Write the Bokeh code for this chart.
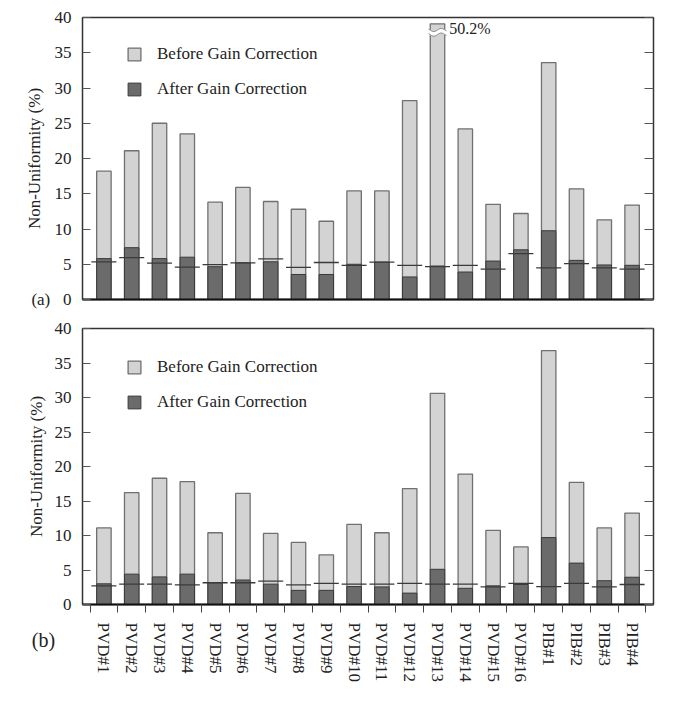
import numpy as np
from bokeh.plotting import figure
from bokeh.models import (Range1d, LinearAxis, FixedTicker, Legend, LegendItem,
                          Label, ColumnDataSource)
from bokeh.layouts import column
from bokeh.embed import file_html
from bokeh.resources import INLINE

categories = ["PVD#1", "PVD#2", "PVD#3", "PVD#4", "PVD#5", "PVD#6", "PVD#7",
              "PVD#8", "PVD#9", "PVD#10", "PVD#11", "PVD#12", "PVD#13",
              "PVD#14", "PVD#15", "PVD#16", "PIB#1", "PIB#2", "PIB#3", "PIB#4"]

# panel (a)
before_a = [18.2, 21.1, 25.0, 23.5, 13.8, 15.9, 13.9, 12.8, 11.1, 15.4,
            15.4, 28.2, 50.2, 24.2, 13.5, 12.2, 33.6, 15.7, 11.3, 13.4]
after_a = [5.8, 7.35, 5.8, 6.0, 4.65, 5.2, 5.35, 3.55, 3.55, 5.0,
           5.3, 3.2, 4.75, 3.9, 5.45, 7.05, 9.75, 5.55, 4.9, 4.85]
ref_a = [5.35, 5.95, 5.15, 4.6, 4.95, 5.2, 5.75, 4.55, 5.25, 4.85,
         5.3, 4.85, 4.65, 4.85, 4.3, 6.5, 4.5, 5.1, 4.5, 4.3]

# panel (b)
before_b = [11.1, 16.2, 18.3, 17.8, 10.4, 16.1, 10.3, 9.0, 7.2, 11.6,
            10.4, 16.8, 30.6, 18.9, 10.75, 8.35, 36.8, 17.7, 11.1, 13.25]
after_b = [3.0, 4.4, 4.0, 4.4, 3.15, 3.55, 2.95, 2.05, 2.05, 2.6,
           2.55, 1.65, 5.1, 2.35, 2.7, 2.9, 9.7, 6.0, 3.45, 3.95]
ref_b = [2.7, 2.95, 2.95, 2.85, 3.15, 3.15, 3.4, 2.85, 3.05, 2.95,
         2.95, 3.05, 2.95, 2.95, 2.55, 3.05, 2.6, 3.05, 2.55, 2.9]

y_ticks = [0, 5, 10, 15, 20, 25, 30, 35, 40]
Y_MAX = 40
Y_CAP = 39.1      # display top of a broken (off-scale) bar
BREAK_Y = 37.9    # position of the break symbol

FONT = "Liberation Serif"
LIGHT = "#d3d3d3"
LIGHT_LINE = "#707070"
DARK = "#6b6b6b"
DARK_LINE = "#3a3a3a"
BAR_W = 0.52
NBSP = "\u00a0"

idx = np.arange(len(categories))


def make_panel(before, after, ref, tag, bottom_labels, legend_vy, tag_y):
    height = 316 if not bottom_labels else 369
    p = figure(width=662, height=height, output_backend="svg",
               toolbar_location=None,
               x_range=Range1d(-0.77, len(categories) - 0.23),
               y_range=Range1d(0, Y_MAX),
               min_border_left=75, min_border_right=9,
               min_border_top=(17 if not bottom_labels else 12),
               min_border_bottom=(75 if bottom_labels else 17))
    p.xgrid.visible = False
    p.ygrid.visible = False
    p.outline_line_color = "#333333"
    p.outline_line_width = 1.5
    p.background_fill_color = "white"
    p.border_fill_color = "white"

    before = np.array(before, dtype=float)
    shown = np.minimum(before, Y_CAP)
    src = ColumnDataSource(dict(x=idx, before=shown, after=after, ref=ref))
    r_before = p.vbar(x="x", top="before", bottom=0, width=BAR_W, source=src,
                      fill_color=LIGHT, line_color=LIGHT_LINE, line_width=1.3)
    r_after = p.vbar(x="x", top="after", bottom=0, width=BAR_W, source=src,
                     fill_color=DARK, line_color=DARK_LINE, line_width=1.0)
    p.scatter(x="x", y="ref", source=src, marker="dash", size=25,
              line_color="#3a3a3a", line_width=1.3)

    # broken bars
    for i in np.where(before > Y_MAX)[0]:
        t = np.linspace(-1, 1, 30)
        wx = i + t * (BAR_W / 2 + 0.06)
        wy = BREAK_Y + 0.22 * np.sin(np.pi * t * 1.2)
        p.line(wx, wy, line_color="white", line_width=5)
        p.line(wx, wy + 0.33, line_color="#777777", line_width=1)
        p.line(wx, wy - 0.33, line_color="#777777", line_width=1)
        p.add_layout(Label(x=i + 0.42, y=38.4, text=f"{before[i]:.1f}%",
                           text_font=FONT, text_font_size="16px",
                           text_baseline="middle", text_color="#222222"))

    # left axis
    ya = p.yaxis[0]
    ya.ticker = FixedTicker(ticks=y_ticks)
    ya.major_tick_in = 8
    ya.major_tick_out = 0
    ya.minor_tick_in = 0
    ya.minor_tick_out = 0
    ya.major_tick_line_color = "#555555"
    ya.axis_line_color = None
    ya.major_label_standoff = 11
    ya.major_label_text_font = FONT
    ya.major_label_text_font_size = "17px"
    ya.major_label_text_color = "#222222"
    ya.axis_label = "Non-Uniformity (%)"
    ya.axis_label_text_font = FONT
    ya.axis_label_text_font_size = "17px"
    ya.axis_label_text_font_style = "normal"
    ya.axis_label_text_color = "#222222"
    ya.axis_label_standoff = 6
    if tag_y is None:
        # panel tag sits on the same line as the zero tick label
        ya.major_label_overrides = {0: tag + NBSP * 3 + "0"}
        ya.axis_label_standoff = -16

    # right axis (ticks only)
    ra = LinearAxis(ticker=FixedTicker(ticks=y_ticks), major_tick_in=9,
                    major_tick_out=0, minor_tick_in=0, minor_tick_out=0,
                    major_tick_line_color="#555555", axis_line_color=None,
                    major_label_overrides={t: "" for t in y_ticks},
                    major_label_standoff=0)
    p.add_layout(ra, "right")

    xa = p.xaxis[0]
    xa.axis_line_color = "#111111"
    xa.axis_line_width = 2
    xa.major_tick_in = 0
    xa.major_tick_out = 0
    if bottom_labels:
        xa.ticker = FixedTicker(ticks=list(idx),
                                minor_ticks=[i - 0.5 for i in range(len(categories) + 1)])
        xa.minor_tick_in = 0
        xa.minor_tick_out = 8
        xa.minor_tick_line_color = "#444444"
        xa.minor_tick_line_width = 1
        xa.major_label_overrides = {int(i): c for i, c in zip(idx, categories)}
        xa.major_label_orientation = "vertical"
        xa.major_label_standoff = 10
        xa.major_label_text_font = FONT
        xa.major_label_text_font_size = "17px"
        xa.major_label_text_color = "#222222"
    else:
        xa.ticker = FixedTicker(ticks=[])
        xa.minor_tick_in = 0
        xa.minor_tick_out = 0
        xa.major_label_standoff = 0

    legend = Legend(items=[LegendItem(label="Before Gain Correction", renderers=[r_before]),
                           LegendItem(label="After Gain Correction", renderers=[r_after])],
                    location=(44, legend_vy),
                    glyph_width=16, glyph_height=16, label_height=16,
                    label_standoff=15, spacing=15, padding=0, margin=0,
                    border_line_color=None, background_fill_alpha=0,
                    label_text_font=FONT, label_text_font_size="17px",
                    label_text_color="#222222")
    p.add_layout(legend)

    if tag_y is not None:
        p.add_layout(Label(x=43, y=tag_y,
                           x_units="screen", y_units="screen", text=tag,
                           text_font=FONT, text_font_size="20px",
                           text_align="center", text_baseline="middle",
                           text_color="#222222"), "left")
    return p


pa = make_panel(before_a, after_a, ref_a, "(a)", False, 200, None)
pb = make_panel(before_b, after_b, ref_b, "(b)", True, 192, -35)

layout = column(pa, pb, spacing=0)
open("out.html", "w").write(file_html(layout, INLINE))
